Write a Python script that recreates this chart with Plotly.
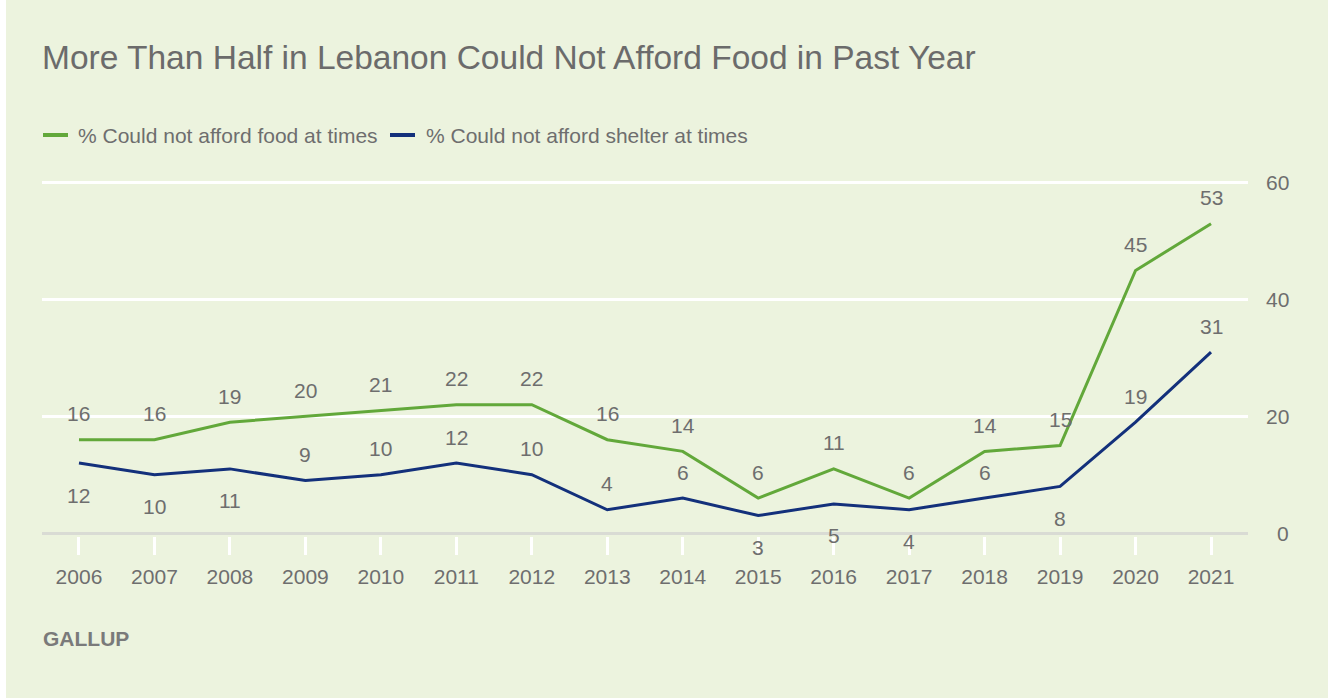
import plotly.graph_objects as go

# ---- data ----
years = [2006, 2007, 2008, 2009, 2010, 2011, 2012, 2013, 2014, 2015, 2016, 2017, 2018, 2019, 2020, 2021]
food = [16, 16, 19, 20, 21, 22, 22, 16, 14, 6, 11, 6, 14, 15, 45, 53]
shelter = [12, 10, 11, 9, 10, 12, 10, 4, 6, 3, 5, 4, 6, 8, 19, 31]
y_ticks = [0, 20, 40, 60]
series_names = ["% Could not afford food at times", "% Could not afford shelter at times"]
title_text = "More Than Half in Lebanon Could Not Afford Food in Past Year"
source_text = "GALLUP"

# ---- style ----
W, H = 1328, 698
L, R_EDGE = 42, 1248
TOP, BOT = 180, 536
Y_RANGE = [-0.5, 60.5]
BG = "#ECF3DE"
GREEN = "#62A83A"
NAVY = "#13307B"
TXT = "#6E6E6E"
FONT = "Liberation Sans, Arial, sans-serif"
shelter_below = [True, True, True, False, False, False, False, False, False, True, True, True, False, True, False, False]

def px_x(px):
    return (px - L) / (R_EDGE - L)

def px_y(py):
    return (BOT - py) / (BOT - TOP)

fig = go.Figure()
fig.add_trace(go.Scatter(x=years, y=food, mode="lines", line=dict(color=GREEN, width=3),
                         name=series_names[0], hoverinfo="x+y"))
fig.add_trace(go.Scatter(x=years, y=shelter, mode="lines", line=dict(color=NAVY, width=3),
                         name=series_names[1], hoverinfo="x+y"))

annotations = []
for yr, v in zip(years, food):
    annotations.append(dict(x=yr, y=v, xref="x", yref="y", text=str(v), showarrow=False,
                            yshift=26, font=dict(size=21, color=TXT, family=FONT)))
for yr, v, below in zip(years, shelter, shelter_below):
    annotations.append(dict(x=yr, y=v, xref="x", yref="y", text=str(v), showarrow=False,
                            yshift=-32 if below else 26, font=dict(size=21, color=TXT, family=FONT)))
for t in y_ticks:
    annotations.append(dict(x=px_x(1291), y=t, xref="paper", yref="y", text=str(t), showarrow=False,
                            xanchor="right", yanchor="middle", font=dict(size=21, color=TXT, family=FONT)))

# title
annotations.append(dict(x=px_x(40), y=px_y(57), xref="paper", yref="paper", text=title_text,
                        showarrow=False, xanchor="left", yanchor="middle",
                        font=dict(size=33.5, color="#6B6B6B", family=FONT)))
# legend
annotations.append(dict(x=px_x(76), y=px_y(135), xref="paper", yref="paper", text=series_names[0],
                        showarrow=False, xanchor="left", yanchor="middle",
                        font=dict(size=21, color=TXT, family=FONT)))
annotations.append(dict(x=px_x(424), y=px_y(135), xref="paper", yref="paper", text=series_names[1],
                        showarrow=False, xanchor="left", yanchor="middle",
                        font=dict(size=21, color=TXT, family=FONT)))
# source
annotations.append(dict(x=px_x(41), y=px_y(638), xref="paper", yref="paper", text="<b>" + source_text + "</b>",
                        showarrow=False, xanchor="left", yanchor="middle",
                        font=dict(size=21, color="#7A7A7A", family=FONT)))

shapes = [
    dict(type="line", xref="paper", yref="paper", x0=px_x(43), x1=px_x(68), y0=px_y(135), y1=px_y(135),
         line=dict(color=GREEN, width=4)),
    dict(type="line", xref="paper", yref="paper", x0=px_x(390), x1=px_x(415), y0=px_y(135), y1=px_y(135),
         line=dict(color=NAVY, width=4)),
    dict(type="rect", xref="paper", yref="paper", x0=px_x(0), x1=px_x(6), y0=px_y(H), y1=px_y(0),
         fillcolor="white", line=dict(width=0), layer="below"),
]

fig.update_layout(
    width=W, height=H,
    margin=dict(l=L, r=W - R_EDGE, t=TOP, b=H - BOT, pad=0),
    paper_bgcolor=BG, plot_bgcolor=BG,
    showlegend=False,
    annotations=annotations, shapes=shapes,
    font=dict(family=FONT, color=TXT),
    xaxis=dict(range=[2005.51, 2021.49], tickmode="array", tickvals=years, ticktext=[str(y) for y in years],
               showgrid=False, zeroline=False, showline=False,
               ticks="outside", ticklen=18, tickwidth=3, tickcolor="white", ticklabelstandoff=4,
               tickfont=dict(size=21, color=TXT, family=FONT), fixedrange=True),
    yaxis=dict(range=Y_RANGE, tickvals=y_ticks, showticklabels=False,
               showgrid=True, gridcolor="white", gridwidth=3,
               zeroline=True, zerolinecolor="#D9DBD4", zerolinewidth=3,
               showline=False, fixedrange=True),
)

fig.write_html("out.html")
